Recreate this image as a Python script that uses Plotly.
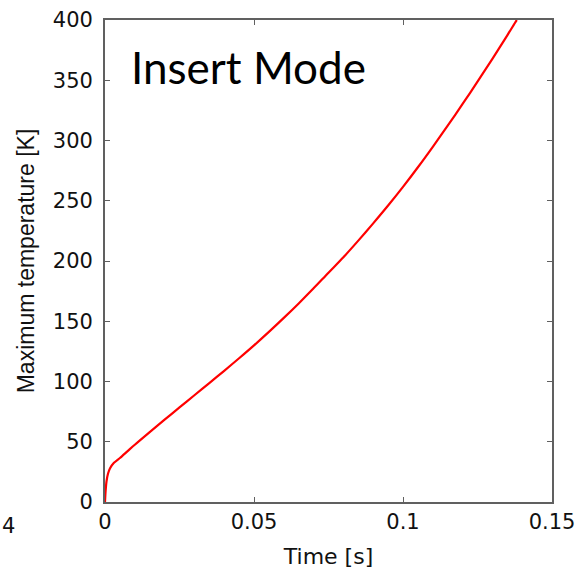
import plotly.graph_objects as go

time_s = [0, 0.0002, 0.0005, 0.001, 0.0017, 0.003, 0.005, 0.0075, 0.01, 0.015, 0.02,
          0.025, 0.03, 0.035, 0.04, 0.045, 0.05, 0.055, 0.06, 0.065, 0.07,
          0.075, 0.08, 0.085, 0.09, 0.095, 0.1, 0.105, 0.11, 0.115, 0.12,
          0.125, 0.13, 0.135, 0.138, 0.1382]
max_temp_K = [0, 9, 17, 23.5, 28, 32.5, 36.5, 42, 47.5, 58, 68.3,
              78.5, 88.6, 98.7, 108.9, 119.3, 130, 141.2, 152.8, 164.8, 177.3,
              190.3, 203.1, 216.9, 231.2, 246, 261.5, 277.8, 294.8, 312.3, 330.3,
              348.8, 367.8, 387.3, 399.3, 400]

x_ticks = [0, 0.05, 0.1, 0.15]
x_tick_labels = ["0", "0.05", "0.1", "0.15"]
y_ticks = [0, 50, 100, 150, 200, 250, 300, 350, 400]

fig = go.Figure()
fig.add_trace(go.Scatter(x=time_s, y=max_temp_K, mode="lines",
                         line=dict(color="#ff0000", width=2.2, shape="spline", smoothing=0.8),
                         showlegend=False, hoverinfo="skip"))

tick_font = dict(family="DejaVu Sans", size=21, color="#111")
axis_common = dict(showline=True, linecolor="#606060", linewidth=1.8, mirror="ticks",
                   ticks="inside", ticklen=5, tickcolor="#606060", tickwidth=1,
                   showgrid=False, zeroline=False, automargin=False,
                   tickfont=tick_font)

fig.update_xaxes(range=[0, 0.15], tickvals=x_ticks, ticktext=x_tick_labels,
                 title=dict(text="Time [s]", font=dict(family="DejaVu Sans", size=22, color="#111"), standoff=16),
                 **axis_common)
fig.update_yaxes(range=[0, 400], tickvals=y_ticks, ticklabelstandoff=6,
                 title=dict(text="Maximum temperature [K]", font=dict(family="Liberation Sans, Arial", size=23, color="#111"), standoff=12),
                 **axis_common)

fig.add_annotation(text="Insert Mode", xref="paper", yref="paper", x=0.054, y=0.902,
                   xanchor="left", yanchor="middle", showarrow=False,
                   font=dict(family="Lato, Open Sans", size=44, color="#000"))
fig.add_annotation(text="4", xref="paper", yref="paper", x=-0.235, y=-0.05,
                   xanchor="left", yanchor="middle", showarrow=False,
                   font=dict(family="DejaVu Sans", size=21, color="#111"))

fig.update_layout(width=578, height=572, margin=dict(l=105, r=26, t=20, b=70),
                  plot_bgcolor="white", paper_bgcolor="white")

# remove the default page margin so the 578x572 figure fills the window exactly
fig.write_html("out.html", config={"displayModeBar": False},
               post_script="document.body.style.margin='0';document.body.style.overflow='hidden';")
